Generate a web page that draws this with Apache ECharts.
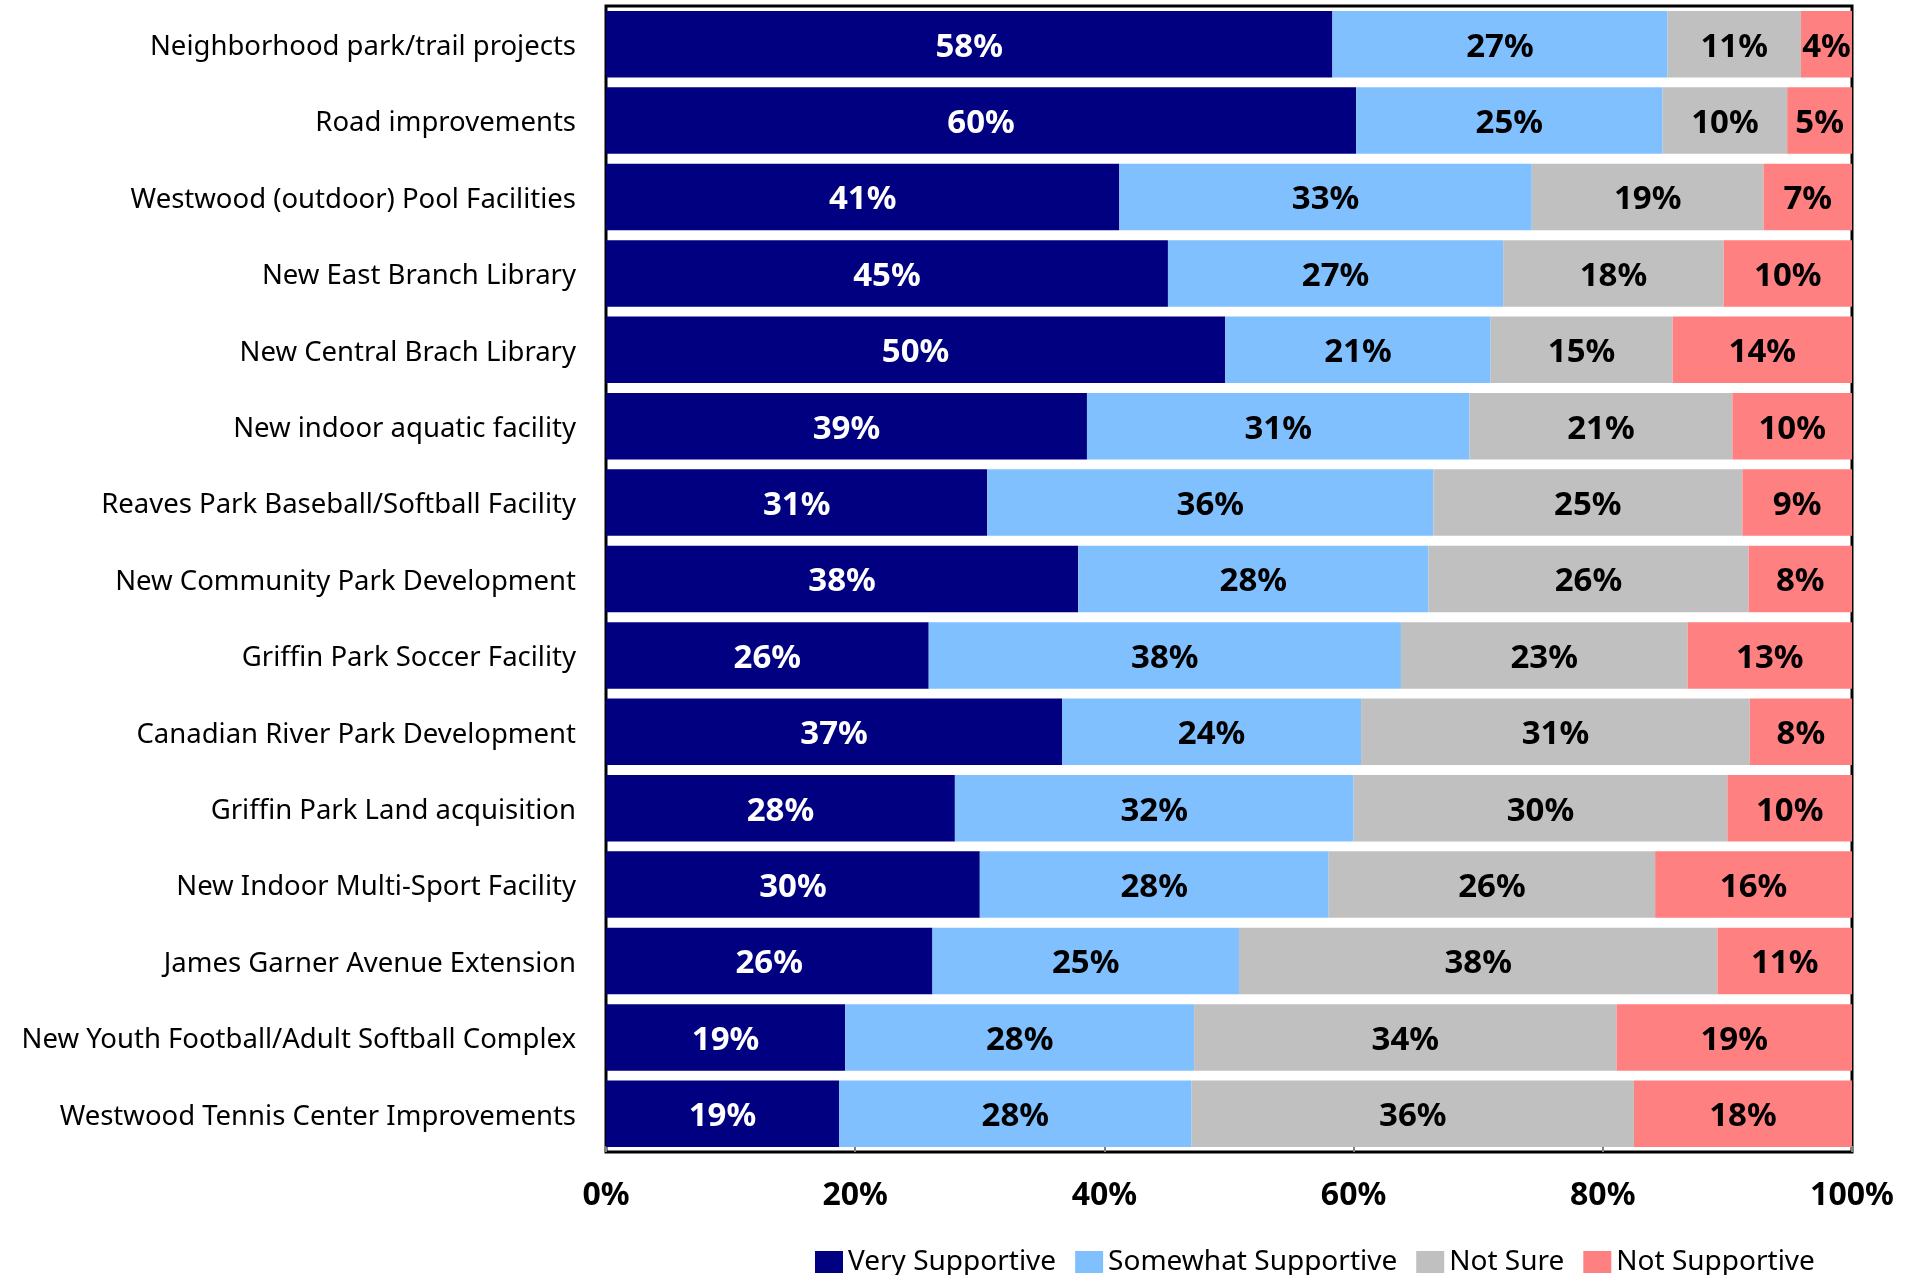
<!DOCTYPE html>
<html>
<head>
    <meta charset="UTF-8">
    <title>Project support</title>
    <script src="https://cdn.jsdelivr.net/npm/echarts@6/dist/echarts.min.js"></script>
    <style>
        body { margin: 0; background: #fff; }
        #main { width: 1916px; height: 1275px; }
    </style>
</head>
<body>
<div id="main"></div>
<script type="text/javascript">
    // categories top to bottom
    var projects = [
        'Neighborhood park/trail projects',
        'Road improvements',
        'Westwood (outdoor) Pool Facilities',
        'New East Branch Library',
        'New Central Brach Library',
        'New indoor aquatic facility',
        'Reaves Park Baseball/Softball Facility',
        'New Community Park Development',
        'Griffin Park Soccer Facility',
        'Canadian River Park Development',
        'Griffin Park Land acquisition',
        'New Indoor Multi-Sport Facility',
        'James Garner Avenue Extension',
        'New Youth Football/Adult Softball Complex',
        'Westwood Tennis Center Improvements'
    ];
    var verySupportive     = [58.3, 60.2, 41.2, 45.1, 49.7, 38.6, 30.6, 37.9, 25.9, 36.6, 28.0, 30.0, 26.2, 19.2, 18.7];
    var somewhatSupportive = [26.9, 24.6, 33.1, 26.9, 21.3, 30.7, 35.8, 28.1, 37.9, 24.0, 32.0, 28.0, 24.6, 28.0, 28.3];
    var notSure            = [10.7, 10.0, 18.6, 17.7, 14.6, 21.1, 24.8, 25.7, 23.0, 31.2, 30.0, 26.2, 38.4, 33.9, 35.5];
    var notSupportive      = [4.1, 5.2, 7.1, 10.3, 14.4, 9.6, 8.8, 8.3, 13.2, 8.2, 10.0, 15.8, 10.8, 18.9, 17.5];
    var xTicks = [0, 20, 40, 60, 80, 100];

    var txtFont = '"Noto Sans", "Open Sans", sans-serif';

    function seg(name, data, color, labelColor) {
        return {
            name: name,
            type: 'bar',
            stack: 'all',
            data: data,
            barCategoryGap: '13%',
            itemStyle: { color: color },
            label: {
                show: true,
                position: 'inside',
                offset: [0, 3],
                color: labelColor,
                fontFamily: txtFont,
                fontWeight: 'bold',
                fontSize: 33,
                formatter: function (p) { return Math.round(p.value) + '%'; }
            }
        };
    }

    var myChart = echarts.init(document.getElementById('main'));
    myChart.setOption({
        animation: false,
        grid: {
            left: 606, right: 64, top: 6, bottom: 123,
            show: true, borderColor: '#000', borderWidth: 3
        },
        legend: {
            left: 810,
            top: 1243,
            itemWidth: 28,
            itemHeight: 22,
            itemGap: 19,
            icon: 'rect',
            textStyle: { fontFamily: txtFont, fontSize: 28, color: '#000' },
            data: ['Very Supportive', 'Somewhat Supportive', 'Not Sure', 'Not Supportive']
        },
        xAxis: {
            type: 'value',
            min: xTicks[0],
            max: xTicks[xTicks.length - 1],
            interval: 20,
            axisLine: { show: false },
            axisTick: { show: true, inside: true, length: 6, lineStyle: { color: '#808080', width: 2 } },
            splitLine: { show: false },
            axisLabel: {
                margin: 28,
                fontFamily: txtFont,
                fontWeight: 'bold',
                fontSize: 32,
                color: '#000',
                formatter: '{value}%'
            }
        },
        yAxis: {
            type: 'category',
            inverse: true,
            data: projects,
            axisLine: { show: false },
            axisTick: { show: false },
            axisLabel: {
                margin: 30,
                fontFamily: txtFont,
                fontSize: 27.5,
                color: '#000',
                formatter: function (v) { return '{t|' + v + '}'; },
                rich: {
                    t: { fontFamily: txtFont, fontSize: 27.5, color: '#000', padding: [6, 0, 0, 0] }
                }
            }
        },
        series: [
            seg('Very Supportive', verySupportive, '#000080', '#fff'),
            seg('Somewhat Supportive', somewhatSupportive, '#80C0FF', '#000'),
            seg('Not Sure', notSure, '#C0C0C0', '#000'),
            seg('Not Supportive', notSupportive, '#FF8080', '#000')
        ]
    });
</script>
</body>
</html>
